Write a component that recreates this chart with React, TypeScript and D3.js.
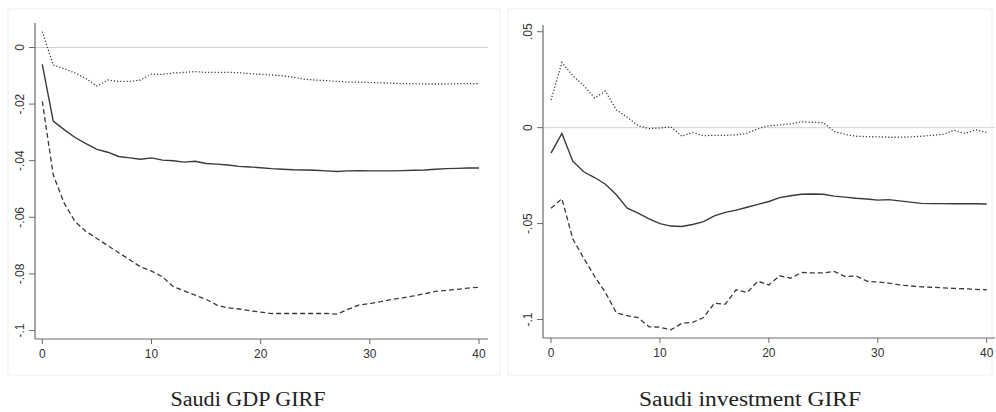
import React from "react";
import * as d3 from "d3";

const W = 996;
const H = 412;

const horizons: number[] = d3.range(0, 41);

// Saudi GDP GIRF
const gdpMedian = [
  -0.006, -0.026, -0.029, -0.0318, -0.034, -0.036, -0.037, -0.0385, -0.039, -0.0395,
  -0.039, -0.0398, -0.04, -0.0405, -0.0402, -0.041, -0.0412, -0.0415, -0.042, -0.0422,
  -0.0425, -0.0428, -0.043, -0.0432, -0.0433, -0.0434, -0.0436, -0.0438, -0.0436, -0.0435,
  -0.0436, -0.0436, -0.0436, -0.0435, -0.0434, -0.0433, -0.043, -0.0428, -0.0427, -0.0426,
  -0.0426,
];
const gdpUpper = [
  0.0056, -0.0062, -0.0075, -0.009, -0.011, -0.0136, -0.0115, -0.012, -0.012, -0.0115,
  -0.0094, -0.0095, -0.009, -0.0088, -0.0085, -0.0088, -0.0088, -0.0088, -0.0089, -0.0092,
  -0.0095, -0.0097, -0.01, -0.0105, -0.0112, -0.0115, -0.0117, -0.012, -0.0122, -0.0122,
  -0.0124, -0.0125, -0.0126, -0.0128, -0.0128, -0.0129, -0.0129, -0.0129, -0.0128, -0.0128,
  -0.0127,
];
const gdpLower = [
  -0.019, -0.045, -0.055, -0.0615, -0.065, -0.0675, -0.07, -0.0725, -0.075, -0.0775,
  -0.079, -0.081, -0.0845, -0.086, -0.0875, -0.089, -0.091, -0.092, -0.0924, -0.093,
  -0.0935, -0.094, -0.094, -0.094, -0.094, -0.094, -0.094, -0.0942, -0.0925, -0.091,
  -0.0905, -0.0898, -0.089, -0.0885, -0.0878, -0.087, -0.0862, -0.0858, -0.0855, -0.085,
  -0.0847,
];

// Saudi investment GIRF
const invMedian = [
  -0.0133, -0.003, -0.0175, -0.023, -0.026, -0.0295, -0.035, -0.042, -0.0445, -0.0475,
  -0.05, -0.0513, -0.0515, -0.0505, -0.049, -0.046, -0.0442, -0.043, -0.0415, -0.04,
  -0.0385, -0.0365, -0.0355, -0.0347, -0.0346, -0.0347, -0.0357, -0.0362, -0.0368, -0.0372,
  -0.0378, -0.0375, -0.0382, -0.0388, -0.0395, -0.0396, -0.0396, -0.0397, -0.0397, -0.0397,
  -0.0398,
];
const invUpper = [
  0.0144, 0.034, 0.027, 0.022, 0.0155, 0.019, 0.0092, 0.0055, 0.001, -0.0005,
  -0.0002, 0.0005, -0.0045, -0.0025, -0.0042, -0.004, -0.004, -0.0038, -0.003, -0.0005,
  0.001, 0.0014, 0.002, 0.003, 0.0028, 0.0026, -0.002, -0.0035, -0.0045, -0.0047,
  -0.0048, -0.005, -0.005, -0.0048, -0.0045, -0.004, -0.0035, -0.0014, -0.003, -0.0012,
  -0.0025,
];
const invLower = [
  -0.042, -0.037, -0.058, -0.068, -0.0775, -0.086, -0.0965, -0.098, -0.099, -0.1038,
  -0.104, -0.1054, -0.102, -0.1015, -0.099, -0.0915, -0.092, -0.0845, -0.086, -0.08,
  -0.082, -0.0772, -0.0785, -0.0755, -0.0757, -0.0757, -0.075, -0.0776, -0.0773, -0.08,
  -0.0805, -0.081, -0.082, -0.0825, -0.083, -0.0832, -0.0835, -0.0838, -0.084, -0.0843,
  -0.0845,
];

const xTicks = [0, 10, 20, 30, 40];
const gdpYTicks = [0, -0.02, -0.04, -0.06, -0.08, -0.1];
const invYTicks = [0.05, 0, -0.05, -0.1];

const gdpTitle = "Saudi GDP GIRF";
const invTitle = "Saudi investment GIRF";

const fmt = (v: number) => {
  if (Math.abs(v) < 1e-12) return "0";
  const s = String(+v.toFixed(4));
  return s.replace(/^(-?)0\./, "$1.");
};

type PanelProps = {
  frame: [number, number, number, number];
  xRange: [number, number];
  axisX: [number, number];
  yDomain: [number, number];
  yRange: [number, number];
  axisY: [number, number];
  yTicks: number[];
  median: number[];
  upper: number[];
  lower: number[];
  title: string;
  titleX: number;
  titleLen: number;
};

const lineColor = "#3a3a3a";
const axisColor = "#6a6a6a";

function Panel(p: PanelProps) {
  const x = d3.scaleLinear().domain([0, 40]).range(p.xRange);
  const y = d3.scaleLinear().domain(p.yDomain).range(p.yRange);
  const gen = (vals: number[]) =>
    d3
      .line<number>()
      .x((_, i) => x(horizons[i]))
      .y((d) => y(d))(vals) || "";
  const [fx, fy, fw, fh] = p.frame;
  const axisLeft = p.axisX[0];
  const axisBottom = p.axisY[1];
  return (
    <g>
      <rect x={fx} y={fy} width={fw} height={fh} fill="#ffffff" stroke="#f0f0f0" strokeWidth={1} />
      <line
        x1={axisLeft}
        x2={p.axisX[1]}
        y1={y(0)}
        y2={y(0)}
        stroke="#c8c8c8"
        strokeWidth={0.8}
      />
      <line x1={axisLeft} x2={axisLeft} y1={p.axisY[0]} y2={axisBottom} stroke={axisColor} strokeWidth={1.2} />
      <line x1={axisLeft} x2={p.axisX[1]} y1={axisBottom} y2={axisBottom} stroke={axisColor} strokeWidth={1.2} />
      {p.yTicks.map((t) => (
        <g key={"y" + t}>
          <line x1={axisLeft - 6} x2={axisLeft} y1={y(t)} y2={y(t)} stroke={axisColor} strokeWidth={1} />
          <text
            transform={`translate(${axisLeft - 11},${y(t)}) rotate(-90)`}
            textAnchor="middle"
            fontFamily="'Liberation Sans', Arial, sans-serif"
            fontSize={12}
            fill="#333"
          >
            {fmt(t)}
          </text>
        </g>
      ))}
      {xTicks.map((t) => (
        <g key={"x" + t}>
          <line x1={x(t)} x2={x(t)} y1={axisBottom} y2={axisBottom + 5} stroke={axisColor} strokeWidth={1} />
          <text
            x={x(t)}
            y={axisBottom + 19}
            textAnchor="middle"
            fontFamily="'Liberation Sans', Arial, sans-serif"
            fontSize={12}
            fill="#333"
          >
            {t}
          </text>
        </g>
      ))}
      <path d={gen(p.upper)} fill="none" stroke={lineColor} strokeWidth={1.3} strokeDasharray="1.2 2" />
      <path d={gen(p.lower)} fill="none" stroke={lineColor} strokeWidth={1.3} strokeDasharray="5 3" />
      <path d={gen(p.median)} fill="none" stroke={lineColor} strokeWidth={1.4} />
      <text
        x={p.titleX}
        y={406}
        textAnchor="middle"
        fontFamily="'Liberation Serif', 'DejaVu Serif', serif"
        fontSize={20}
        textLength={p.titleLen}
        lengthAdjust="spacingAndGlyphs"
        fill="#222"
      >
        {p.title}
      </text>
    </g>
  );
}

export default function App() {
  return (
    <svg
      width={W}
      height={H}
      viewBox={`0 0 ${W} ${H}`}
      style={{ position: "absolute", left: 0, top: 0, background: "#fff" }}
    >
      <Panel
        frame={[8, 9, 492, 366]}
        xRange={[42.3, 479]}
        axisX={[35, 488]}
        yDomain={[-0.1, 0]}
        yRange={[330.5, 47.5]}
        axisY={[23, 339]}
        yTicks={gdpYTicks}
        median={gdpMedian}
        upper={gdpUpper}
        lower={gdpLower}
        title={gdpTitle}
        titleX={248}
        titleLen={155}
      />
      <Panel
        frame={[508, 9, 484, 366]}
        xRange={[551, 986.7]}
        axisX={[543, 995]}
        yDomain={[-0.1, 0.05]}
        yRange={[319.5, 31.7]}
        axisY={[25, 338]}
        yTicks={invYTicks}
        median={invMedian}
        upper={invUpper}
        lower={invLower}
        title={invTitle}
        titleX={750}
        titleLen={222}
      />
    </svg>
  );
}
